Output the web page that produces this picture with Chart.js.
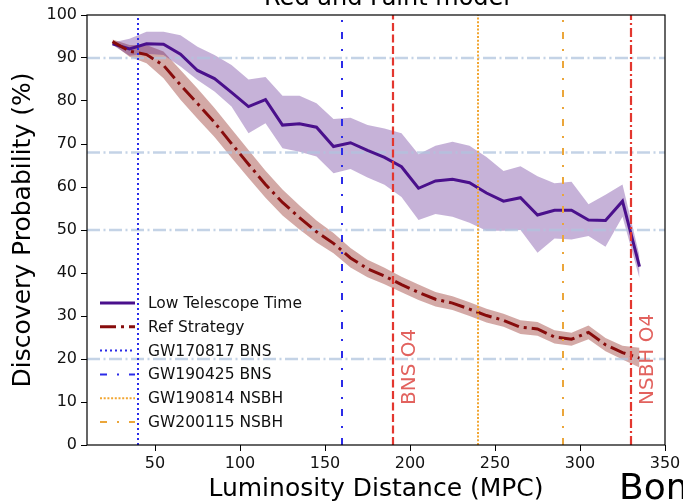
<!DOCTYPE html>
<html>
<head>
<meta charset="utf-8">
<script src="https://cdn.jsdelivr.net/npm/chart.js@4.4.0/dist/chart.umd.min.js"></script>
<style>
  html, body { margin: 0; padding: 0; background: #fff; }
  #wrap { width: 683px; height: 504px; position: relative; }
</style>
</head>
<body>
<div id="wrap"><canvas id="chart"></canvas></div>
<script>
// Probabilidad de descubrimiento vs distancia de luminosidad (modelo rojo y débil)

// Distancias (MPC) donde se evaluó cada estrategia
const distances = [25, 35, 45, 55, 65, 75, 85, 95, 105, 115, 125, 135, 145, 155, 165, 175,
                   185, 195, 205, 215, 225, 235, 245, 255, 265, 275, 285, 295, 305, 315, 325, 335];

// Estrategia con poco tiempo de telescopio: media y banda
const lowTime   = [93.3, 92.1, 93.3, 93.2, 90.9, 87.1, 85.2, 82.0, 78.7, 80.3, 74.4, 74.7, 73.9, 69.4, 70.3, 68.5,
                   66.9, 64.7, 59.7, 61.4, 61.8, 61.0, 58.6, 56.7, 57.5, 53.5, 54.6, 54.6, 52.3, 52.2, 56.7, 41.5];
const lowTimeHi = [93.6, 94.5, 96.1, 96.1, 95.3, 92.6, 90.7, 88.4, 85.0, 85.6, 81.2, 81.2, 79.5, 75.8, 76.1, 74.4,
                   73.6, 72.5, 67.6, 69.6, 70.5, 69.6, 67.0, 63.7, 64.8, 62.5, 60.9, 61.2, 56.0, 58.2, 60.6, 44.0];
const lowTimeLo = [93.0, 90.5, 91.0, 90.7, 88.0, 84.9, 82.2, 78.7, 72.5, 74.8, 69.0, 68.2, 67.1, 63.2, 64.2, 62.2,
                   60.5, 57.7, 52.3, 53.7, 53.1, 51.7, 49.8, 49.8, 50.0, 44.7, 48.0, 47.8, 48.6, 46.1, 53.1, 38.8];

// Estrategia de referencia: media y banda
const refStrat = [93.8, 91.6, 90.8, 88.3, 83.7, 79.4, 75.0, 70.1, 65.3, 60.6, 56.4, 52.9, 49.6, 46.9, 43.5, 41.0,
                  39.3, 37.3, 35.5, 33.9, 33.0, 31.6, 30.1, 29.0, 27.4, 27.0, 25.1, 24.6, 26.2, 23.3, 21.5, 20.2];
const refHi    = [94.3, 93.0, 93.0, 91.5, 87.2, 82.9, 78.4, 73.5, 68.6, 63.8, 59.4, 55.7, 52.2, 49.3, 45.8, 43.1,
                  41.2, 39.1, 37.3, 35.6, 34.6, 33.2, 31.7, 30.5, 29.0, 28.6, 26.7, 26.1, 27.8, 24.9, 23.1, 22.6];
const refLo    = [93.3, 90.3, 88.8, 85.3, 80.3, 75.9, 71.6, 66.8, 62.1, 57.5, 53.4, 50.1, 47.1, 44.6, 41.3, 39.0,
                  37.4, 35.5, 33.7, 32.2, 31.4, 30.0, 28.5, 27.5, 25.8, 25.4, 23.6, 23.1, 24.6, 21.8, 19.9, 18.0];

// Eventos de ondas gravitacionales conocidos (distancia en MPC)
const eventNames = ['GW170817 BNS', 'GW190425 BNS', 'GW190814 NSBH', 'GW200115 NSBH'];
const eventDist  = [40, 160, 240, 290];

// Horizontes de detección de O4
const horizonNames = ['BNS O4', 'NSBH O4'];
const horizonDist  = [190, 330];

// Niveles de probabilidad de referencia
const probLevels = [90, 68, 50, 20];

// Ejes
const xTicks = [50, 100, 150, 200, 250, 300, 350];
const yTicks = [0, 10, 20, 30, 40, 50, 60, 70, 80, 90, 100];
const X_MIN = 10, X_MAX = 350;

const FONT = 'DejaVu Sans';
Chart.defaults.font.family = FONT;
Chart.defaults.color = '#111';

// Estilos de trazo
const EVENT_STYLE = {
  'GW170817 BNS':  { color: '#2b2be8', dash: [2, 3] },
  'GW190425 BNS':  { color: '#2b2be8', dash: [7, 10, 2, 10] },
  'GW190814 NSBH': { color: '#f2a632', dash: [2, 1.7] },
  'GW200115 NSBH': { color: '#eba63a', dash: [7, 10, 2, 10] }
};
const HORIZON_STYLE = {
  'BNS O4':  { dash: [8, 3.5] },
  'NSBH O4': { dash: [9, 3, 2, 3] }
};
const HORIZON_COLOR = '#e3372f';
const HORIZON_TEXT = '#e2625e';

const pts = (xs, ys) => xs.map((x, i) => ({ x: x, y: ys[i] }));

const datasets = [];

// bandas (relleno entre alto y bajo)
datasets.push({ label: 'refHi', data: pts(distances, refHi), fill: '+1',
  backgroundColor: 'rgba(139, 30, 20, 0.38)', borderColor: 'transparent', borderWidth: 1, order: 60 });
datasets.push({ label: 'refLo', data: pts(distances, refLo), fill: false,
  borderColor: 'transparent', borderWidth: 1, order: 61 });
datasets.push({ label: 'lowHi', data: pts(distances, lowTimeHi), fill: '+1',
  backgroundColor: 'rgba(87, 30, 140, 0.34)', borderColor: 'transparent', borderWidth: 1, order: 50 });
datasets.push({ label: 'lowLo', data: pts(distances, lowTimeLo), fill: false,
  borderColor: 'transparent', borderWidth: 1, order: 51 });

// líneas horizontales de probabilidad
probLevels.forEach(v => datasets.push({
  label: 'p' + v, data: [{ x: X_MIN, y: v }, { x: X_MAX, y: v }],
  borderColor: 'rgba(176, 196, 222, 0.75)', borderWidth: 2.5, borderDash: [13, 3.5, 2, 3.5], order: 40
}));

// curvas principales
datasets.push({ label: 'Low Telescope Time', inLegend: true, data: pts(distances, lowTime),
  borderColor: '#4a108c', borderWidth: 3, order: 22 });
datasets.push({ label: 'Ref Strategy', inLegend: true, data: pts(distances, refStrat),
  borderColor: '#870c0c', borderWidth: 3, borderDash: [16, 5, 3, 5], order: 20 });

// eventos
eventNames.forEach((name, i) => datasets.push({
  label: name, inLegend: true,
  data: [{ x: eventDist[i], y: yTicks[0] }, { x: eventDist[i], y: yTicks[yTicks.length - 1] }],
  borderColor: EVENT_STYLE[name].color, borderDash: EVENT_STYLE[name].dash, borderWidth: 2, order: 10
}));

// horizontes O4
horizonNames.forEach((name, i) => datasets.push({
  label: name,
  data: [{ x: horizonDist[i], y: yTicks[0] }, { x: horizonDist[i], y: yTicks[yTicks.length - 1] }],
  borderColor: HORIZON_COLOR, borderDash: HORIZON_STYLE[name].dash, borderWidth: 2.2, order: 9
}));

datasets.forEach(d => {
  d.showLine = true;
  d.pointRadius = 0;
  d.tension = 0;
  d.borderCapStyle = 'butt';
});

// marco, leyenda y textos sueltos
const decor = {
  id: 'decor',
  afterDatasetsDraw(chart) {
    const { ctx, chartArea: a, scales } = chart;
    ctx.save();

    // etiquetas de horizonte giradas
    ctx.fillStyle = HORIZON_TEXT;
    ctx.font = '20px ' + FONT;
    ctx.textAlign = 'left';
    ctx.textBaseline = 'top';
    horizonNames.forEach((name, i) => {
      ctx.save();
      ctx.translate(scales.x.getPixelForValue(horizonDist[i] + 4), scales.y.getPixelForValue(9.3));
      ctx.rotate(-Math.PI / 2);
      ctx.fillText(name, 0, 0);
      ctx.restore();
    });

    // leyenda abajo a la izquierda, sin fondo
    const items = chart.data.datasets.filter(d => d.inLegend);
    const x0 = a.left + 13;
    let y = a.bottom - 142;
    ctx.font = '15.5px ' + FONT;
    ctx.textBaseline = 'middle';
    items.forEach(d => {
      ctx.strokeStyle = d.borderColor;
      ctx.lineWidth = d.borderWidth;
      ctx.setLineDash(d.borderDash || []);
      ctx.lineCap = 'butt';
      ctx.beginPath();
      ctx.moveTo(x0, y);
      ctx.lineTo(x0 + 35, y);
      ctx.stroke();
      ctx.fillStyle = '#111';
      ctx.fillText(d.label, x0 + 48, y + 1);
      y += 23.8;
    });
    ctx.setLineDash([]);

    // marco de los ejes
    ctx.strokeStyle = '#000';
    ctx.lineWidth = 1.2;
    ctx.strokeRect(a.left, a.top, a.right - a.left, a.bottom - a.top);
    ctx.restore();
  },
  afterDraw(chart) {
    const ctx = chart.ctx;
    ctx.save();
    ctx.fillStyle = '#000';
    ctx.textBaseline = 'alphabetic';
    ctx.textAlign = 'center';
    ctx.font = '24px ' + FONT;
    ctx.fillText('Red and Faint model', 387, 5);
    ctx.textAlign = 'left';
    ctx.font = '36px ' + FONT;
    ctx.fillText('Bom', 619, 499);
    ctx.restore();
  }
};

new Chart(document.getElementById('chart'), {
  type: 'scatter',
  data: { datasets: datasets },
  plugins: [decor],
  options: {
    responsive: true,
    maintainAspectRatio: false,
    animation: false,
    events: [],
    layout: { padding: { top: 15, right: 18, left: 0, bottom: 0 } },
    plugins: {
      legend: { display: false },
      tooltip: { enabled: false },
      filler: { propagate: false }
    },
    scales: {
      x: {
        type: 'linear',
        min: X_MIN,
        max: X_MAX,
        afterBuildTicks: s => { s.ticks = xTicks.map(v => ({ value: v })); },
        afterFit: s => { s.height = 59; s.paddingLeft = 0; s.paddingRight = 0; },
        grid: { display: true, drawOnChartArea: false, drawTicks: true, tickLength: 6, color: '#000', lineWidth: 1 },
        border: { display: false },
        ticks: { font: { size: 16 }, color: '#111', padding: 3, maxRotation: 0 },
        title: { display: true, text: 'Luminosity Distance (MPC)', font: { size: 25 }, color: '#000',
                 padding: { top: 0, bottom: 0 } }
      },
      y: {
        type: 'linear',
        min: yTicks[0],
        max: yTicks[yTicks.length - 1],
        afterBuildTicks: s => { s.ticks = yTicks.map(v => ({ value: v })); },
        afterFit: s => { s.width = 87; s.paddingTop = 0; s.paddingBottom = 0; },
        grid: { display: true, drawOnChartArea: false, drawTicks: true, tickLength: 6, color: '#000', lineWidth: 1 },
        border: { display: false },
        ticks: { font: { size: 16 }, color: '#111', padding: 4 },
        title: { display: true, text: 'Discovery Probability (%)', font: { size: 25 }, color: '#000',
                 padding: { top: 8, bottom: 0 } }
      }
    }
  }
});
</script>
</body>
</html>
